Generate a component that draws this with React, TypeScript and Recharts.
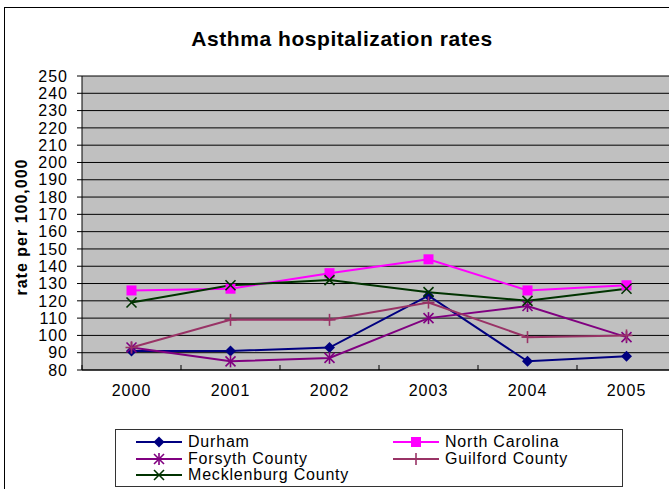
import { CartesianGrid, Line, LineChart, XAxis, YAxis } from "recharts";

// Valores (taxa por 100 000 hab.)
const years = ["2000", "2001", "2002", "2003", "2004", "2005"];
const durham = [91, 91, 93, 123, 85, 88];
const northCarolina = [126, 127, 136, 144, 126, 129];
const forsyth = [93, 85, 87, 110, 117, 99];
const guilford = [93, 109, 109, 119, 99, 100];
const mecklenburg = [119, 129, 132, 125, 120, 127];
const yTicks = [80, 90, 100, 110, 120, 130, 140, 150, 160, 170, 180, 190, 200, 210, 220, 230, 240, 250];

type Marker = "diamond" | "square" | "star" | "plus" | "cross";

const series: { key: string; label: string; color: string; marker: Marker; values: number[] }[] = [
  { key: "durham", label: "Durham", color: "#000080", marker: "diamond", values: durham },
  { key: "nc", label: "North Carolina", color: "#FF00FF", marker: "square", values: northCarolina },
  { key: "forsyth", label: "Forsyth County", color: "#800080", marker: "star", values: forsyth },
  { key: "guilford", label: "Guilford County", color: "#993366", marker: "plus", values: guilford },
  { key: "meck", label: "Mecklenburg County", color: "#003300", marker: "cross", values: mecklenburg },
];

const data = years.map((year, i) => {
  const row: Record<string, string | number> = { year };
  for (const s of series) row[s.key] = s.values[i];
  return row;
});

const FONT = "'Liberation Sans', Arial, sans-serif";

function MarkerShape({ kind, cx, cy, color }: { kind: Marker; cx: number; cy: number; color: string }) {
  const r = 5;
  switch (kind) {
    case "diamond":
      return <polygon points={`${cx},${cy - r - 0.5} ${cx + r + 0.5},${cy} ${cx},${cy + r + 0.5} ${cx - r - 0.5},${cy}`} fill={color} />;
    case "square":
      return <rect x={cx - r} y={cy - r} width={2 * r} height={2 * r} fill={color} />;
    case "star":
      return (
        <g stroke={color} strokeWidth={1.6}>
          <line x1={cx - r} y1={cy - r} x2={cx + r} y2={cy + r} />
          <line x1={cx - r} y1={cy + r} x2={cx + r} y2={cy - r} />
          <line x1={cx} y1={cy - r - 1} x2={cx} y2={cy + r + 1} />
        </g>
      );
    case "plus":
      return (
        <g stroke={color} strokeWidth={1.6}>
          <line x1={cx - r - 1} y1={cy} x2={cx + r + 1} y2={cy} />
          <line x1={cx} y1={cy - r - 1} x2={cx} y2={cy + r + 1} />
        </g>
      );
    default:
      return (
        <g stroke={color} strokeWidth={1.6}>
          <line x1={cx - r} y1={cy - r} x2={cx + r} y2={cy + r} />
          <line x1={cx - r} y1={cy + r} x2={cx + r} y2={cy - r} />
        </g>
      );
  }
}

const TICK = 5;
const TICK_GAP = 15;

// Rótulo do ano no centro da categoria e traço de marca na fronteira esquerda (como no Excel)
function YearTick(props: any) {
  const { x, y, payload } = props;
  const axisY = y - TICK - TICK_GAP;
  const edge = x - (payload.offset ?? 0);
  return (
    <g>
      <line x1={edge} y1={axisY} x2={edge} y2={axisY + TICK} stroke="#000" />
      <text x={x} y={y} dy="0.71em" textAnchor="middle" fontSize={16} fontFamily={FONT} fill="#000" letterSpacing={1}>
        {payload.value}
      </text>
    </g>
  );
}

function LegendBox() {
  return (
    <div
      style={{
        position: "absolute",
        left: 115,
        top: 429,
        width: 506,
        height: 56,
        border: "1px solid #333",
        background: "#fff",
        boxSizing: "content-box",
      }}
    >
      {series.map((s, i) => (
        <div
          key={s.key}
          style={{
            position: "absolute",
            left: 20 + (i % 2) * 257,
            top: 4 + Math.floor(i / 2) * 16.6,
            height: 16.6,
            display: "flex",
            alignItems: "center",
            whiteSpace: "nowrap",
          }}
        >
          <svg width={46} height={14} style={{ display: "block" }}>
            <line x1={0} y1={7} x2={46} y2={7} stroke={s.color} strokeWidth={2} />
            <MarkerShape kind={s.marker} cx={23} cy={7} color={s.color} />
          </svg>
          <span style={{ marginLeft: 6, fontSize: 16, fontFamily: FONT, letterSpacing: 0.8, lineHeight: "16px" }}>{s.label}</span>
        </div>
      ))}
    </div>
  );
}

export default function App() {
  return (
    <div style={{ position: "absolute", left: 0, top: 0, width: 669, height: 489, overflow: "hidden", background: "#fff" }}>
      <div style={{ position: "absolute", left: 4, top: 7, width: 720, height: 600, border: "1px solid #000" }} />
      <div
        style={{
          position: "absolute",
          left: 0,
          top: 28,
          width: 684,
          textAlign: "center",
          fontFamily: FONT,
          fontWeight: "bold",
          fontSize: 21,
          lineHeight: "21px",
          letterSpacing: 0.55,
        }}
      >
        Asthma hospitalization rates
      </div>
      <div
        style={{
          position: "absolute",
          left: 22 - 100,
          top: 227 - 10,
          width: 200,
          height: 20,
          lineHeight: "20px",
          textAlign: "center",
          transform: "rotate(-90deg)",
          fontFamily: FONT,
          fontWeight: "bold",
          fontSize: 16,
          letterSpacing: 1,
        }}
      >
        rate per 100,000
      </div>
      <div style={{ position: "absolute", left: 0, top: 0 }}>
        <LineChart width={700} height={489} data={data} margin={{ top: 76, right: 24, bottom: 89, left: 0 }}>
          <CartesianGrid vertical={false} stroke="#000" fill="#C0C0C0" fillOpacity={1} />
          <XAxis
            dataKey="year"
            scale="band"
            axisLine={{ stroke: "#000" }}
            tickLine={false}
            tickSize={TICK}
            tickMargin={TICK_GAP - TICK}
            height={30}
            tick={<YearTick />}
            interval={0}
          />
          <YAxis
            domain={[80, 250]}
            ticks={yTicks}
            interval={0}
            width={82}
            axisLine={{ stroke: "#000" }}
            tickLine={{ stroke: "#000" }}
            tickSize={5}
            tickMargin={9}
            tick={{ fill: "#000", fontSize: 16, fontFamily: FONT, letterSpacing: 1 }}
          />
          {series.map((s) => (
            <Line
              key={s.key}
              type="linear"
              dataKey={s.key}
              stroke={s.color}
              strokeWidth={2}
              isAnimationActive={false}
              activeDot={false}
              dot={(p: any) => (
                <g key={`${s.key}-${p.index}`}>
                  <MarkerShape kind={s.marker} cx={p.cx} cy={p.cy} color={s.color} />
                </g>
              )}
            />
          ))}
        </LineChart>
      </div>
      <LegendBox />
    </div>
  );
}
